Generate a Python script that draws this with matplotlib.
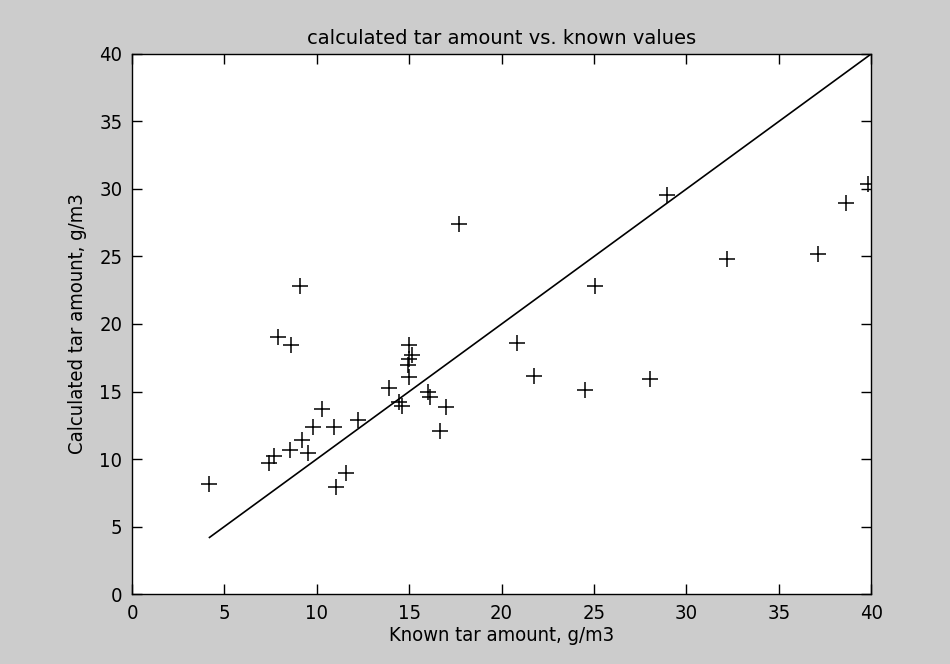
import matplotlib
matplotlib.use("Agg")
import matplotlib.pyplot as plt
import numpy as np

# known vs calculated tar amounts, g/m3
known = [4.19, 7.43, 7.70, 7.92, 8.55, 8.59, 9.10, 9.19, 9.51, 9.82,
         10.29, 10.95, 11.04, 11.57, 12.25, 13.91, 14.47, 14.60, 14.92, 15.01,
         15.01, 15.01, 15.14, 16.04, 16.10, 16.68, 16.98, 17.70, 20.82, 21.76,
         24.54, 25.07, 28.05, 28.95, 32.20, 37.10, 38.66, 39.81]
calc = [8.14, 9.74, 10.24, 19.01, 10.66, 18.47, 22.85, 11.40, 10.48, 12.39,
        13.70, 12.39, 7.89, 8.95, 12.91, 15.23, 14.19, 13.95, 16.99, 16.10,
        17.41, 18.45, 17.73, 14.93, 14.56, 12.09, 13.82, 27.42, 18.57, 16.17,
        15.11, 22.85, 15.93, 29.53, 24.83, 25.15, 28.95, 30.39]
line_end = 40
ticks = [0, 5, 10, 15, 20, 25, 30, 35, 40]

plt.rcParams["font.family"] = ["DejaVu Sans"]
plt.rcParams["font.stretch"] = "condensed"

fig = plt.figure(figsize=(9.5, 6.64), dpi=100, facecolor="#cccccc")
ax = fig.add_axes([0.139, 0.1054, 0.778, 0.8133])
ax.set_facecolor("white")

# ideal agreement line y = x
line_x = np.array([min(known), line_end])
ax.plot(line_x, line_x, color="black", lw=1.2)
ax.plot(known, calc, "+", color="black", markersize=11, mew=1.1)

ax.set_xlim(0, 40)
ax.set_ylim(0, 40)
ax.set_xticks(ticks)
ax.set_yticks(ticks)
ax.tick_params(direction="in", length=7, width=1, top=True, right=True,
               labelsize=14.5, pad=7)
for sp in ax.spines.values():
    sp.set_linewidth(1)

ax.set_title("calculated tar amount vs. known values", fontsize=14,
             fontstretch="normal", pad=7.5)
ax.set_xlabel("Known tar amount, g/m3", fontsize=14.5, labelpad=2)
ax.set_ylabel("Calculated tar amount, g/m3", fontsize=14.5, labelpad=9)

fig.savefig("out.png", dpi=100, facecolor=fig.get_facecolor())
